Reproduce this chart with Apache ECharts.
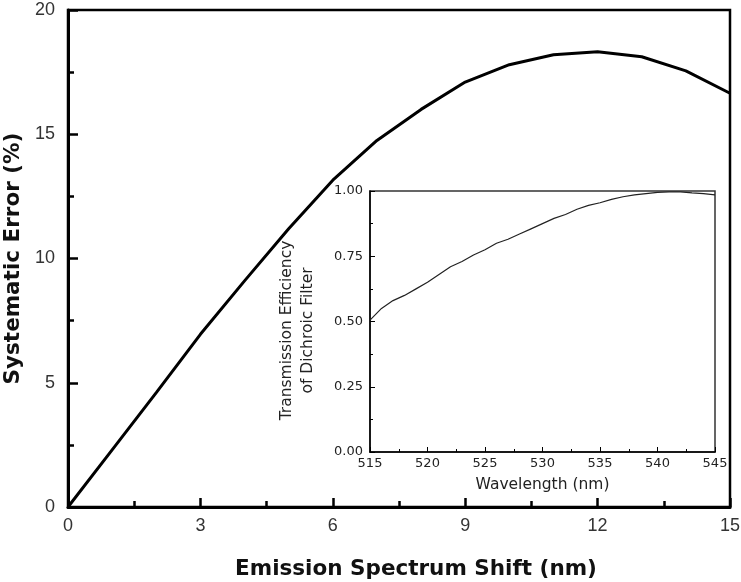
<!DOCTYPE html>
<html>
<head>
<meta charset="utf-8">
<script src="https://cdn.jsdelivr.net/npm/echarts@6/dist/echarts.min.js"></script>
<style>html,body{margin:0;padding:0;background:#fff;}#c{width:741px;height:582px;}</style>
</head>
<body>
<div id="c"></div>
<script>
// Main chart: systematic error vs emission spectrum shift
const shiftNm = [0,1,2,3,4,5,6,7,8,9,10,11,12,13,14,15];
const systematicError = [0,2.3,4.6,6.95,9.1,11.2,13.15,14.75,16.0,17.1,17.8,18.2,18.32,18.12,17.55,16.65];
// Inset: transmission efficiency of dichroic filter
const wavelength = [515,516,517,518,519,520,521,522,523,524,525,526,527,528,529,530,531,532,533,534,535,536,537,538,539,540,541,542,543,544,545];
const transmission = [0.505,0.55,0.58,0.60,0.625,0.65,0.68,0.71,0.73,0.755,0.775,0.80,0.815,0.835,0.855,0.875,0.895,0.91,0.93,0.945,0.955,0.968,0.978,0.985,0.99,0.995,0.997,0.997,0.993,0.99,0.985];

const font = 'Liberation Sans, Arial, sans-serif';
const wide = 'DejaVu Sans, sans-serif';
const chart = echarts.init(document.getElementById('c'));
chart.setOption({
  animation: false,
  backgroundColor: '#fff',
  grid: [
    {left: 68, top: 10, right: 11, bottom: 75, show: true, borderColor: '#000', borderWidth: 2.5, containLabel: false, outerBoundsMode: 'none'},
    {left: 370, top: 191, right: 26, bottom: 130, show: true, borderColor: '#333', borderWidth: 1.5, containLabel: false, outerBoundsMode: 'none'}
  ],
  xAxis: [
    {gridIndex: 0, type: 'value', min: 0, max: 15, interval: 3,
     name: 'Emission Spectrum Shift (nm)', nameLocation: 'middle', nameGap: 51,
     nameTextStyle: {fontFamily: wide, fontSize: 21.5, fontWeight: 'bold', color: '#111', padding: [0,0,0,34]},
     axisLine: {show: true, lineStyle: {color: '#000', width: 3}},
     axisTick: {show: true, inside: true, length: 9, lineStyle: {color: '#000', width: 2.5}},
     minorTick: {show: true, splitNumber: 2, length: 6, lineStyle: {color: '#000', width: 2.5}},
     axisLabel: {fontFamily: font, fontSize: 18, color: '#333', margin: 10},
     splitLine: {show: false}},
    {gridIndex: 1, type: 'value', min: 515, max: 545, interval: 5,
     name: 'Wavelength (nm)', nameLocation: 'middle', nameGap: 25,
     nameTextStyle: {fontFamily: wide, fontSize: 15.5, color: '#222'},
     axisLine: {show: true, lineStyle: {color: '#000', width: 1.5}},
     axisTick: {show: true, inside: true, length: 5, lineStyle: {color: '#000', width: 1}},
     minorTick: {show: true, splitNumber: 2, length: 3, lineStyle: {color: '#000', width: 1}},
     axisLabel: {fontFamily: wide, fontSize: 13, color: '#222', margin: 5},
     splitLine: {show: false}}
  ],
  yAxis: [
    {gridIndex: 0, type: 'value', min: 0, max: 20, interval: 5,
     name: 'Systematic Error (%)', nameLocation: 'middle', nameGap: 44,
     nameTextStyle: {fontFamily: wide, fontSize: 21.5, fontWeight: 'bold', color: '#111'},
     axisLine: {show: true, lineStyle: {color: '#000', width: 3}},
     axisTick: {show: true, inside: true, length: 10, lineStyle: {color: '#000', width: 2.5}},
     minorTick: {show: true, splitNumber: 2, length: 6, lineStyle: {color: '#000', width: 2.5}},
     axisLabel: {fontFamily: font, fontSize: 18, color: '#333', margin: 13},
     splitLine: {show: false}},
    {gridIndex: 1, type: 'value', min: 0, max: 1, interval: 0.25,
     name: 'Transmission Efficiency\nof Dichroic Filter', nameLocation: 'middle', nameGap: 52,
     nameTextStyle: {fontFamily: wide, fontSize: 15.5, color: '#222', lineHeight: 21, padding: [0,18,0,0]},
     axisLine: {show: true, lineStyle: {color: '#000', width: 1.5}},
     axisTick: {show: true, inside: true, length: 5, lineStyle: {color: '#000', width: 1}},
     minorTick: {show: true, splitNumber: 2, length: 3, lineStyle: {color: '#000', width: 1}},
     axisLabel: {fontFamily: wide, fontSize: 13, color: '#222', margin: 7, formatter: v => v.toFixed(2)},
     splitLine: {show: false}}
  ],
  series: [
    {type: 'line', xAxisIndex: 0, yAxisIndex: 0, data: shiftNm.map((x, i) => [x, systematicError[i]]),
     showSymbol: false, smooth: false, lineStyle: {color: '#000', width: 3}},
    {type: 'line', xAxisIndex: 1, yAxisIndex: 1, data: wavelength.map((x, i) => [x, transmission[i]]),
     showSymbol: false, smooth: false, lineStyle: {color: '#222', width: 1.2}}
  ]
});
</script>
</body>
</html>
